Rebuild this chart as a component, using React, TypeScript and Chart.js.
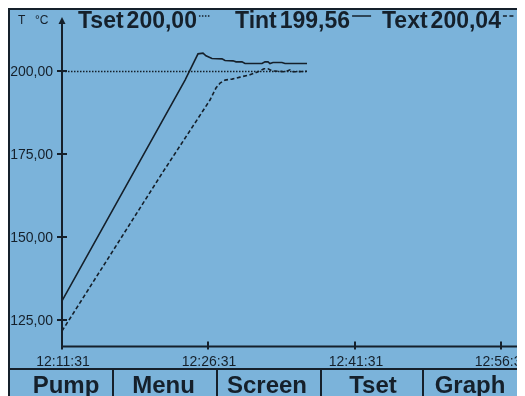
import { useEffect, useRef } from "react";
import { Chart, registerables } from "chart.js";

Chart.register(...registerables);

// Elapsed minutes since 12:11:31 and temperatures in °C
const tsetMinutes = [0, 25.13];
const tsetValues = [200, 200];

const tintMinutes = [0, 12.62, 13.95, 14.46, 14.77, 15.38, 16.41, 16.72, 17.54, 17.85, 18.46, 18.77, 20.51, 20.82, 21.13, 21.33, 21.64, 22.56, 22.87, 25.13];
const tintValues = [130.9, 197.4, 205.3, 205.5, 204.7, 203.9, 203.8, 203.3, 203.2, 202.9, 202.9, 202.4, 202.4, 202.9, 202.9, 202.4, 202.7, 202.7, 202.4, 202.4];

const textMinutes = [0, 10.26, 15.18, 15.79, 16.21, 16.72, 17.44, 18.26, 19.28, 20.1, 20.72, 21.13, 21.54, 22.87, 23.38, 23.69, 25.13];
const textValues = [121.8, 169.3, 191.4, 195.0, 196.5, 197.4, 197.7, 198.3, 199.0, 199.9, 200.8, 200.8, 200.2, 199.9, 200.5, 199.9, 200.04];

const yTickValues = [125, 150, 175, 200];
const yTickLabels = ["125,00", "150,00", "175,00", "200,00"];
const xTickValues = [0, 15, 30, 45];
const xTickLabels = ["12:11:31", "12:26:31", "12:41:31", "12:56:31"];

const legendNames = ["Tset", "Tint", "Text"];
const legendValues = ["200,00", "199,56", "200,04"];
const buttonLabels = ["Pump", "Menu", "Screen", "Tset", "Graph"];

const BG = "#7bb3da";
const INK = "#15202b";
const DASHES: number[][] = [[1.5, 1.5], [], [4, 2.5]];

const toPoints = (xs: number[], ys: number[]) => xs.map((x, i) => ({ x, y: ys[i] }));

const panelPlugin = {
  id: "panel",
  beforeDraw(chart: any) {
    const { ctx, width, height } = chart;
    ctx.save();
    ctx.fillStyle = BG;
    ctx.fillRect(0, 0, width, height);
    ctx.restore();
  },
  afterDraw(chart: any) {
    const { ctx, width, height, chartArea } = chart;
    const xs = chart.scales.x;
    const ys = chart.scales.y;
    const ax = Math.round(chartArea.left);
    const ay = Math.round(chartArea.bottom) + 0.5;
    ctx.save();
    ctx.strokeStyle = INK;
    ctx.fillStyle = INK;

    // frame
    ctx.lineWidth = 2;
    ctx.beginPath();
    ctx.moveTo(1, height);
    ctx.lineTo(1, 1);
    ctx.lineTo(width, 1);
    ctx.stroke();

    // axes
    ctx.lineWidth = 2;
    ctx.beginPath();
    ctx.moveTo(ax, 14);
    ctx.lineTo(ax, ay);
    ctx.lineTo(width - 6, ay);
    ctx.stroke();
    // arrow heads
    ctx.beginPath();
    ctx.moveTo(ax, 9);
    ctx.lineTo(ax - 3.5, 16);
    ctx.lineTo(ax + 3.5, 16);
    ctx.closePath();
    ctx.fill();
    ctx.beginPath();
    ctx.moveTo(width + 1, ay);
    ctx.lineTo(width - 7, ay - 3.5);
    ctx.lineTo(width - 7, ay + 3.5);
    ctx.closePath();
    ctx.fill();

    // y ticks
    ctx.font = "14px 'Liberation Sans'";
    ctx.textAlign = "right";
    ctx.textBaseline = "middle";
    ctx.lineWidth = 2;
    yTickValues.forEach((v, i) => {
      const py = Math.round(ys.getPixelForValue(v));
      ctx.beginPath();
      ctx.moveTo(ax - 5, py);
      ctx.lineTo(ax + 5, py);
      ctx.stroke();
      ctx.fillText(yTickLabels[i], ax - 9, py + 1);
    });

    // x ticks
    ctx.textAlign = "center";
    ctx.textBaseline = "alphabetic";
    xTickValues.forEach((v, i) => {
      const px = Math.round(xs.getPixelForValue(v));
      ctx.beginPath();
      ctx.moveTo(px, ay - 5);
      ctx.lineTo(px, ay + 3);
      ctx.stroke();
      ctx.fillText(xTickLabels[i], px + 1, 358);
    });

    // legend header
    ctx.textAlign = "left";
    ctx.font = "12px 'Liberation Sans'";
    ctx.fillText("T", 10, 16);
    ctx.fillText("°C", 27, 16);
    const starts = [70, 227, 374];
    const sampleLens = [12, 19, 13];
    ctx.font = "bold 23px 'Liberation Sans'";
    legendNames.forEach((name, i) => {
      let x = starts[i];
      ctx.fillText(name, x, 19.5);
      x += ctx.measureText(name).width + 3;
      ctx.fillText(legendValues[i], x, 19.5);
      x += ctx.measureText(legendValues[i]).width + 2;
      ctx.save();
      ctx.lineWidth = 1.5;
      ctx.setLineDash(DASHES[i]);
      ctx.beginPath();
      ctx.moveTo(x, 8);
      ctx.lineTo(x + sampleLens[i], 8);
      ctx.stroke();
      ctx.restore();
    });

    // button bar
    const barTop = 361;
    const seps = [105, 209, 313, 415];
    const centers = [58, 155.5, 259, 365, 462];
    ctx.lineWidth = 2;
    ctx.beginPath();
    ctx.moveTo(0, barTop);
    ctx.lineTo(width, barTop);
    seps.forEach((s) => {
      ctx.moveTo(s, barTop);
      ctx.lineTo(s, height);
    });
    ctx.stroke();
    ctx.font = "bold 24px 'Liberation Sans'";
    ctx.textAlign = "center";
    buttonLabels.forEach((b, i) => ctx.fillText(b, centers[i], 385));
    ctx.restore();
  },
};

export default function App() {
  const ref = useRef<HTMLCanvasElement>(null);
  useEffect(() => {
    if (!ref.current) return;
    const chart = new Chart(ref.current, {
      type: "line",
      data: {
        datasets: [
          { label: "Tset", data: toPoints(tsetMinutes, tsetValues), borderDash: DASHES[0], borderWidth: 1.5 },
          { label: "Tint", data: toPoints(tintMinutes, tintValues), borderDash: DASHES[1], borderWidth: 1.6 },
          { label: "Text", data: toPoints(textMinutes, textValues), borderDash: DASHES[2], borderWidth: 1.6 },
        ].map((d) => ({ ...d, borderColor: INK, pointRadius: 0, tension: 0, fill: false })),
      },
      options: {
        animation: false,
        responsive: false,
        devicePixelRatio: 1,
        layout: { padding: { left: 54, right: 4.75, top: 12, bottom: 50 } },
        plugins: { legend: { display: false }, tooltip: { enabled: false }, title: { display: false } },
        scales: {
          x: { type: "linear", min: 0, max: 47, display: false },
          y: { type: "linear", min: 117.3, max: 215.5, display: false },
        },
      },
      plugins: [panelPlugin],
    });
    return () => chart.destroy();
  }, []);
  return <canvas ref={ref} width={517} height={388} style={{ display: "block" }} />;
}
